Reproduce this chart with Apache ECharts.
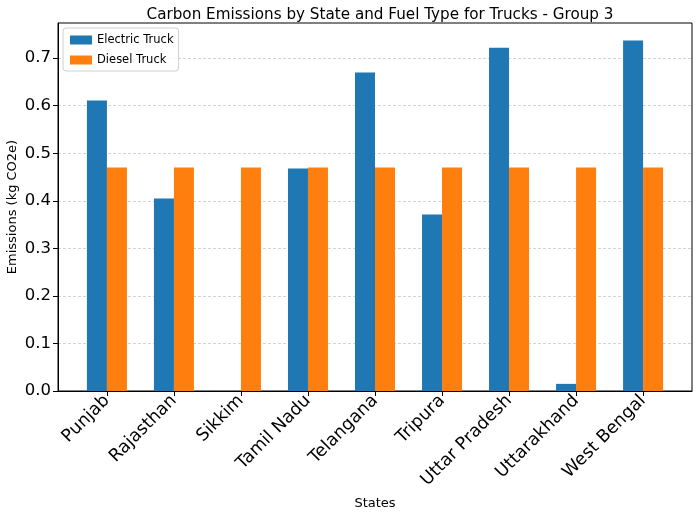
<!DOCTYPE html>
<html><head><meta charset="utf-8">
<script src="https://cdn.jsdelivr.net/npm/echarts@6/dist/echarts.min.js"></script>
<style>html,body{margin:0;padding:0;background:#fff}#c{width:700px;height:516px}</style>
</head><body><div id="c"></div>
<script>
const states = ['Punjab','Rajasthan','Sikkim','Tamil Nadu','Telangana','Tripura','Uttar Pradesh','Uttarakhand','West Bengal'];
const electric = [0.611, 0.405, 0, 0.468, 0.670, 0.371, 0.722, 0.015, 0.737];
const diesel = [0.470, 0.470, 0.470, 0.470, 0.470, 0.470, 0.470, 0.470, 0.470];
const yTicks = [0, 0.1, 0.2, 0.3, 0.4, 0.5, 0.6, 0.7];

const idx = states.map((s, i) => i);
const font = 'DejaVu Sans';
const chart = echarts.init(document.getElementById('c'), null, {renderer: 'canvas'});
chart.setOption({
  animation: false,
  backgroundColor: '#fff',
  textStyle: {fontFamily: font},
  title: {
    text: 'Carbon Emissions by State and Fuel Type for Trucks - Group 3',
    left: 375, top: 3, textAlign: 'center',
    textStyle: {fontFamily: font, fontSize: 15.2, fontWeight: 'normal', color: '#000'}
  },
  legend: {
    orient: 'vertical', left: 63, top: 28,
    itemWidth: 22, itemHeight: 9, itemGap: 8,
    padding: [6, 5, 5, 7],
    borderColor: '#d0d0d0', borderWidth: 1, borderRadius: 3,
    backgroundColor: 'rgba(255,255,255,0.85)',
    textStyle: {fontFamily: font, fontSize: 11.5, color: '#000'},
    data: [{name: 'Electric Truck', icon: 'rect'}, {name: 'Diesel Truck', icon: 'rect'}]
  },
  grid: {left: 58, right: 8, top: 23, bottom: 125, containLabel: false, outerBoundsMode: 'none',
         show: true, borderColor: '#000', borderWidth: 1, backgroundColor: 'transparent'},
  xAxis: {
    type: 'value', min: -0.73, max: 8.73,
    name: 'States', nameLocation: 'middle', nameGap: 106, nameMoveOverlap: false,
    nameTextStyle: {fontFamily: font, fontSize: 13, color: '#000'},
    axisLine: {show: true, onZero: false, lineStyle: {color: '#000'}},
    axisTick: {show: true, customValues: idx, length: 5, lineStyle: {color: '#000'}},
    axisLabel: {
      customValues: idx, rotate: 45, fontSize: 17.5, color: '#000', fontFamily: font, margin: 7,
      formatter: v => states[Math.round(v)]
    },
    splitLine: {show: false}
  },
  yAxis: {
    type: 'value', min: 0, max: 0.774,
    name: 'Emissions (kg CO2e)', nameLocation: 'middle', nameGap: 39, nameMoveOverlap: false,
    nameTextStyle: {fontFamily: font, fontSize: 13, color: '#000'},
    axisLine: {show: true, onZero: false, lineStyle: {color: '#000'}},
    axisTick: {show: true, customValues: yTicks, length: 5, lineStyle: {color: '#000'}},
    axisLabel: {customValues: yTicks, fontSize: 16.5, color: '#000', fontFamily: font, margin: 7, formatter: v => v.toFixed(1)},
    splitLine: {show: true, customValues: yTicks, lineStyle: {color: '#c8c8c8', type: [3, 2], width: 0.8}}
  },
  series: [
    {name: 'Electric Truck', type: 'bar', data: electric.map((v, i) => [i, v]), barWidth: 20, barGap: '0%', itemStyle: {color: '#1f77b4'}},
    {name: 'Diesel Truck', type: 'bar', data: diesel.map((v, i) => [i, v]), barWidth: 20, barGap: '0%', itemStyle: {color: '#ff7f0e'}}
  ]
});
</script></body></html>
